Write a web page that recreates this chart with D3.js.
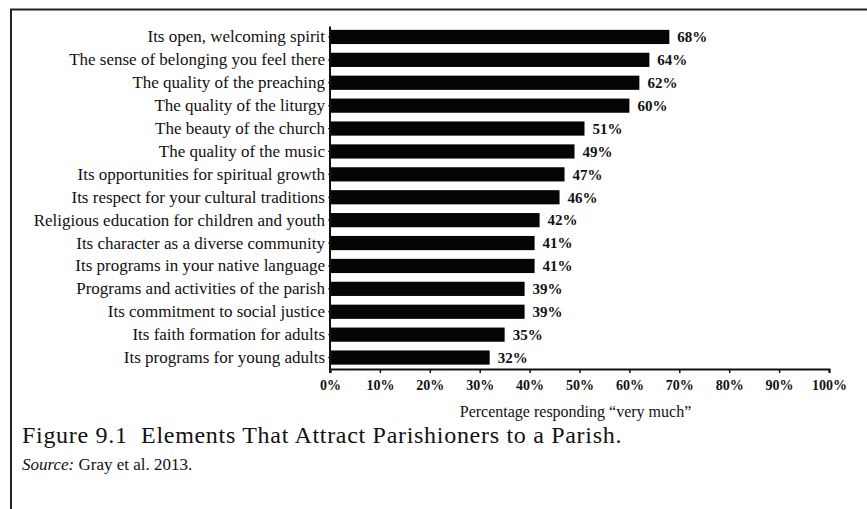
<!DOCTYPE html>
<html>
<head>
<meta charset="utf-8">
<script src="https://cdnjs.cloudflare.com/ajax/libs/d3/7.8.5/d3.min.js"></script>
<style>
  body { margin: 0; background: #fff; }
  .chart text { font-family: "Liberation Serif", "Times New Roman", serif; fill: #111; }
</style>
</head>
<body>
<div class="chart"></div>
<script>
"use strict";

// categories, top to bottom
var categories = [
  "Its open, welcoming spirit",
  "The sense of belonging you feel there",
  "The quality of the preaching",
  "The quality of the liturgy",
  "The beauty of the church",
  "The quality of the music",
  "Its opportunities for spiritual growth",
  "Its respect for your cultural traditions",
  "Religious education for children and youth",
  "Its character as a diverse community",
  "Its programs in your native language",
  "Programs and activities of the parish",
  "Its commitment to social justice",
  "Its faith formation for adults",
  "Its programs for young adults"
];

// percent responding "very much"
var values = [68, 64, 62, 60, 51, 49, 47, 46, 42, 41, 41, 39, 39, 35, 32];

var xTicks = [0, 10, 20, 30, 40, 50, 60, 70, 80, 90, 100];

var axisTitle = "Percentage responding \u201cvery much\u201d";
var captionText = "Figure 9.1  Elements That Attract Parishioners to a Parish.";
var sourceLabel = "Source:";
var sourceText = " Gray et al. 2013.";

var width = 867, height = 509;
var margin = {top: 25.5, right: 38, bottom: 140, left: 330};

var svg = d3.select(".chart").append("svg")
    .attr("width", width)
    .attr("height", height);

// frame (only top and left edges show in the scan)
svg.append("line")
    .attr("x1", 10).attr("x2", width)
    .attr("y1", 9.5).attr("y2", 9.5)
    .attr("stroke", "#222").attr("stroke-width", 2);
svg.append("line")
    .attr("x1", 11).attr("x2", 11)
    .attr("y1", 9).attr("y2", height)
    .attr("stroke", "#222").attr("stroke-width", 2);

var plotH = 369 - margin.top;

var x = d3.scaleLinear()
    .domain([0, 100])
    .range([margin.left, 829]);

var y = d3.scaleBand()
    .domain(categories)
    .range([margin.top, margin.top + plotH])
    .paddingInner(0.38)
    .paddingOuter(0.19);

var g = svg.append("g");

// bars
g.selectAll(".bar")
    .data(values)
    .enter().append("rect")
    .attr("class", "bar")
    .attr("x", x(0))
    .attr("y", function(d, i) { return y(categories[i]); })
    .attr("width", function(d) { return x(d) - x(0); })
    .attr("height", y.bandwidth())
    .attr("fill", "#050505");

// value labels
g.selectAll(".val")
    .data(values)
    .enter().append("text")
    .attr("class", "val")
    .attr("x", function(d) { return x(d) + 8; })
    .attr("y", function(d, i) { return y(categories[i]) + y.bandwidth() / 2; })
    .attr("dy", "0.35em")
    .style("font-size", "15px")
    .style("font-weight", "bold")
    .text(function(d) { return d + "%"; });

// x axis
var xAxis = svg.append("g")
    .attr("transform", "translate(0," + (margin.top + plotH) + ")")
    .call(d3.axisBottom(x)
      .tickValues(xTicks)
      .tickSize(4)
      .tickSizeOuter(4)
      .tickPadding(7)
      .tickFormat(function(d) { return d + "%"; }));
xAxis.select(".domain").attr("stroke", "#111").attr("stroke-width", 2);
xAxis.selectAll(".tick line").attr("stroke", "#111").attr("stroke-width", 1.5);
xAxis.selectAll(".tick text")
    .style("font-family", "'Liberation Serif', serif")
    .style("font-size", "14px")
    .style("font-weight", "bold")
    .attr("fill", "#111");

// y axis
var yAxis = svg.append("g")
    .attr("transform", "translate(" + x(0) + ",0)")
    .call(d3.axisLeft(y).tickSize(2).tickSizeOuter(0).tickPadding(3));
yAxis.select(".domain")
    .attr("stroke", "#111").attr("stroke-width", 2)
    .attr("d", "M0," + (margin.top + 1) + "V" + (margin.top + plotH + 4));
yAxis.selectAll(".tick line").attr("stroke", "#111");
yAxis.selectAll(".tick text")
    .style("font-family", "'Liberation Serif', serif")
    .style("font-size", "17px")
    .attr("fill", "#111");

// axis title
svg.append("text")
    .attr("x", (x(0) + x(100)) / 2 - 4)
    .attr("y", 417)
    .attr("text-anchor", "middle")
    .style("font-size", "16px")
    .text(axisTitle);

// caption (keep the double space after the figure number)
svg.append("text")
    .attr("x", 22)
    .attr("y", 443)
    .style("font-size", "24px")
    .style("letter-spacing", "0.7px")
    .style("white-space", "pre")
    .text(captionText);

var src = svg.append("text")
    .attr("x", 22)
    .attr("y", 470)
    .style("font-size", "17px")
    .style("white-space", "pre");
src.append("tspan").style("font-style", "italic").text(sourceLabel);
src.append("tspan").text(sourceText);
</script>
</body>
</html>
